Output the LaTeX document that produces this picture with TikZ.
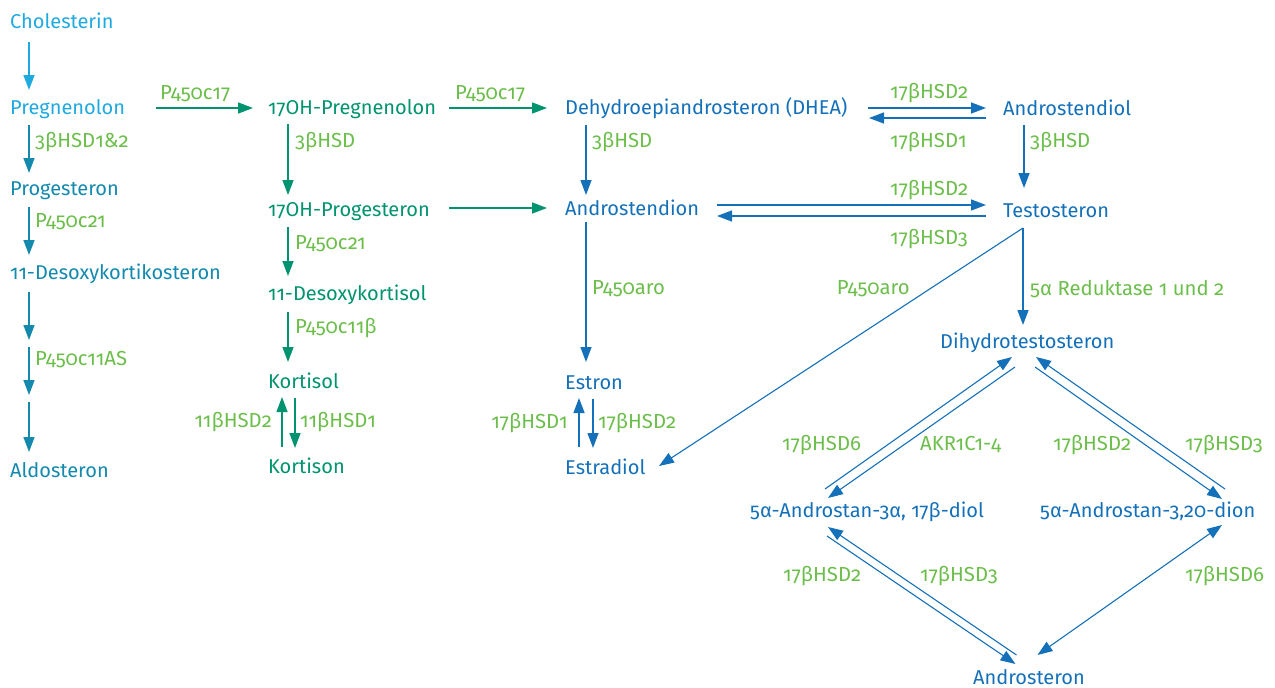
\documentclass[tikz,border=0pt]{standalone}
\usepackage{fontspec}
\setmainfont{Fira Sans}[Numbers=OldStyle]
\usetikzlibrary{arrows.meta}
\definecolor{lblue}{HTML}{1FA9E1}
\definecolor{tblue}{HTML}{1389AE}
\definecolor{cgreen}{HTML}{00936F}
\definecolor{cblue}{HTML}{1470B9}
\definecolor{lgreen}{HTML}{6CBE4B}
\tikzset{
  sub/.style={anchor=base west, inner sep=0pt, font=\fontsize{20}{23}\selectfont},
  lab/.style={anchor=base west, inner sep=0pt, text=lgreen, font=\fontsize{20.3}{23}\selectfont},
  labr/.style={lab, anchor=base east},
  arr/.style={line width=1.4pt, -{Triangle[length=15pt,width=11pt]}},
  darr/.style={line width=1.1pt, -{Triangle[length=15pt,width=11pt]}},
  dbl/.style={line width=1.1pt, {Triangle[length=15pt,width=11pt]}-{Triangle[length=15pt,width=11pt]}}
}
\begin{document}
\begin{tikzpicture}[x=1pt,y=-1pt]
\useasboundingbox (0,0) rectangle (1275,688);
% column 1
\node[sub,text=lblue] (chol) at (10,28) {Cholesterin};
\node[sub,text=lblue] (preg) at (10,114) {Pregnenolon};
\node[sub,text=tblue] (prog) at (10,195) {Progesteron};
\node[sub,text=tblue] (dok) at (10,279) {11-Desoxykortikosteron};
\node[sub,text=tblue] (aldo) at (10,477) {Aldosteron};
% column 2
\node[sub,text=cgreen] (ohpreg) at (268,114) {17OH-Pregnenolon};
\node[sub,text=cgreen] (ohprog) at (268,216) {17OH-Progesteron};
\node[sub,text=cgreen] (desk) at (268,300) {11-Desoxykortisol};
\node[sub,text=cgreen] (kortisol) at (268,388) {Kortisol};
\node[sub,text=cgreen] (kortison) at (268,473) {Kortison};
% column 3
\node[sub,text=cblue] (dhea) at (565,114) {Dehydroepiandrosteron (DHEA)};
\node[sub,text=cblue] (andion) at (565,215) {Androstendion};
\node[sub,text=cblue] (estron) at (565,389) {Estron};
\node[sub,text=cblue] (estradiol) at (565,474) {Estradiol};
% right part
\node[sub,text=cblue] (andiol) at (1003,115) {Androstendiol};
\node[sub,text=cblue] (testo) at (1003,217) {Testosteron};
\node[sub,text=cblue] (dht) at (940,348) {Dihydrotestosteron};
\node[sub,text=cblue] (diol) at (750,517) {5α-Androstan-3α, 17β-diol};
\node[sub,text=cblue] (dion) at (1040,517) {5α-Androstan-3,20-dion};
\node[sub,text=cblue] (andro) at (973,684.5) {Androsteron};

% labels
\node[lab] (l1) at (35,147) {3βHSD1\&2};
\node[lab] (l2) at (35,227) {P450c21};
\node[lab] (l3) at (35,365) {P450c11AS};
\node[lab] (l4) at (160,99) {P450c17};
\node[lab] (l5) at (295,147) {3βHSD};
\node[lab] (l6) at (295,249) {P450c21};
\node[lab] (l7) at (295,333) {P450c11β};
\node[labr] (l8) at (272,427) {11βHSD2};
\node[lab] (l9) at (300,427) {11βHSD1};
\node[lab] (l10) at (455,99) {P450c17};
\node[lab] (l11) at (592,147) {3βHSD};
\node[lab] (l12) at (592,294) {P450aro};
\node[labr] (l13) at (568,428) {17βHSD1};
\node[lab] (l14) at (598,428) {17βHSD2};
\node[lab] (l15) at (890,98) {17βHSD2};
\node[lab] (l16) at (890,147) {17βHSD1};
\node[lab] (l17) at (1030,147) {3βHSD};
\node[lab] (l18) at (890,195) {17βHSD2};
\node[lab] (l19) at (890,244) {17βHSD3};
\node[labr] (l20) at (910,294) {P450aro};
\node[lab] (l21) at (1030,295) {5α Reduktase 1 und 2};
\node[lab] (l22) at (782,450) {17βHSD6};
\node[lab] (l23) at (920,450) {AKR1C1-4};
\node[lab] (l24) at (1053,450) {17βHSD2};
\node[lab] (l25) at (1185,450) {17βHSD3};
\node[lab] (l26) at (783,581) {17βHSD2};
\node[lab] (l27) at (920,581) {17βHSD3};
\node[lab] (l28) at (1185,581) {17βHSD6};

% column 1 arrows
\draw[arr,lblue] ([shift={(19,14)}]chol.base west) -- ([shift={(19,-24)}]preg.base west);
\draw[arr,tblue] ([shift={(19,11)}]preg.base west) -- ([shift={(19,-22)}]prog.base west);
\draw[arr,tblue] ([shift={(19,12)}]prog.base west) -- ([shift={(19,-24)}]dok.base west);
\draw[arr,tblue] ([shift={(19,13)}]dok.base west) -- ([shift={(19,61)}]dok.base west);
\draw[arr,tblue] ([shift={(19,68)}]dok.base west) -- ([shift={(19,116)}]dok.base west);
\draw[arr,tblue] ([shift={(19,123)}]dok.base west) -- ([shift={(19,-25)}]aldo.base west);
% horizontal green arrows
\draw[arr,cgreen] ([shift={(146,-6)}]preg.base west) -- ([shift={(-15,-6)}]ohpreg.base west);
\draw[arr,cgreen] ([shift={(181,-6)}]ohpreg.base west) -- ([shift={(-18,-6)}]dhea.base west);
\draw[arr,cgreen] ([shift={(181,-8)}]ohprog.base west) -- ([shift={(-18,-7)}]andion.base west);
% column 2 arrows
\draw[arr,cgreen] ([shift={(20,10)}]ohpreg.base west) -- ([shift={(20,-21)}]ohprog.base west);
\draw[arr,cgreen] ([shift={(20,11)}]ohprog.base west) -- ([shift={(20,-24)}]desk.base west);
\draw[arr,cgreen] ([shift={(20,12)}]desk.base west) -- ([shift={(20,-26)}]kortisol.base west);
\draw[arr,cgreen] ([shift={(14,-26)}]kortison.base west) -- ([shift={(14,9)}]kortisol.base west);
\draw[arr,cgreen] ([shift={(27,10)}]kortisol.base west) -- ([shift={(27,-25)}]kortison.base west);
% column 3 arrows
\draw[arr,cblue] ([shift={(21,11)}]dhea.base west) -- ([shift={(21,-20)}]andion.base west);
\draw[arr,cblue] ([shift={(21,7)}]andion.base west) -- ([shift={(21,-27)}]estron.base west);
\draw[arr,cblue] ([shift={(14,-27)}]estradiol.base west) -- ([shift={(14,9)}]estron.base west);
\draw[arr,cblue] ([shift={(28,10)}]estron.base west) -- ([shift={(28,-26)}]estradiol.base west);
% DHEA <-> Androstendiol
\draw[arr,cblue] ([shift={(303,-6)}]dhea.base west) -- ([shift={(-17,-7)}]andiol.base west);
\draw[arr,cblue] ([shift={(-17,3)}]andiol.base west) -- ([shift={(304,4)}]dhea.base west);
% Androstendion <-> Testosteron
\draw[arr,cblue] ([shift={(152,-10)}]andion.base west) -- ([shift={(-17,-12)}]testo.base west);
\draw[arr,cblue] ([shift={(-17,-1)}]testo.base west) -- ([shift={(152,1)}]andion.base west);
% Androstendiol -> Testosteron
\draw[arr,cblue] ([shift={(21,10)}]andiol.base west) -- ([shift={(21,-29)}]testo.base west);
% Testosteron -> DHT and Estradiol
\draw[arr,cblue] ([shift={(20,11)}]testo.base west) -- ([shift={(83,-23)}]dht.base west);
\draw[darr,cblue] ([shift={(20,11)}]testo.base west) -- ([shift={(94,-8)}]estradiol.base west);
% DHT <-> diol
\draw[darr,cblue] ([shift={(75,-28)}]diol.base west) -- ([shift={(72,9)}]dht.base west);
\draw[darr,cblue] ([shift={(75,19)}]dht.base west) -- ([shift={(78,-19)}]diol.base west);
% DHT <-> dion
\draw[darr,cblue] ([shift={(95,19)}]dht.base west) -- ([shift={(182,-18)}]dion.base west);
\draw[darr,cblue] ([shift={(185,-28)}]dion.base west) -- ([shift={(96,9)}]dht.base west);
% diol <-> Androsteron
\draw[darr,cblue] ([shift={(43.5,-29.5)}]andro.base west) -- ([shift={(78,10)}]diol.base west);
\draw[darr,cblue] ([shift={(77,19)}]diol.base west) -- ([shift={(42.5,-20.5)}]andro.base west);
% dion <-> Androsteron
\draw[dbl,cblue] ([shift={(182,8)}]dion.base west) -- ([shift={(64.5,-29.5)}]andro.base west);
\end{tikzpicture}
\end{document}
